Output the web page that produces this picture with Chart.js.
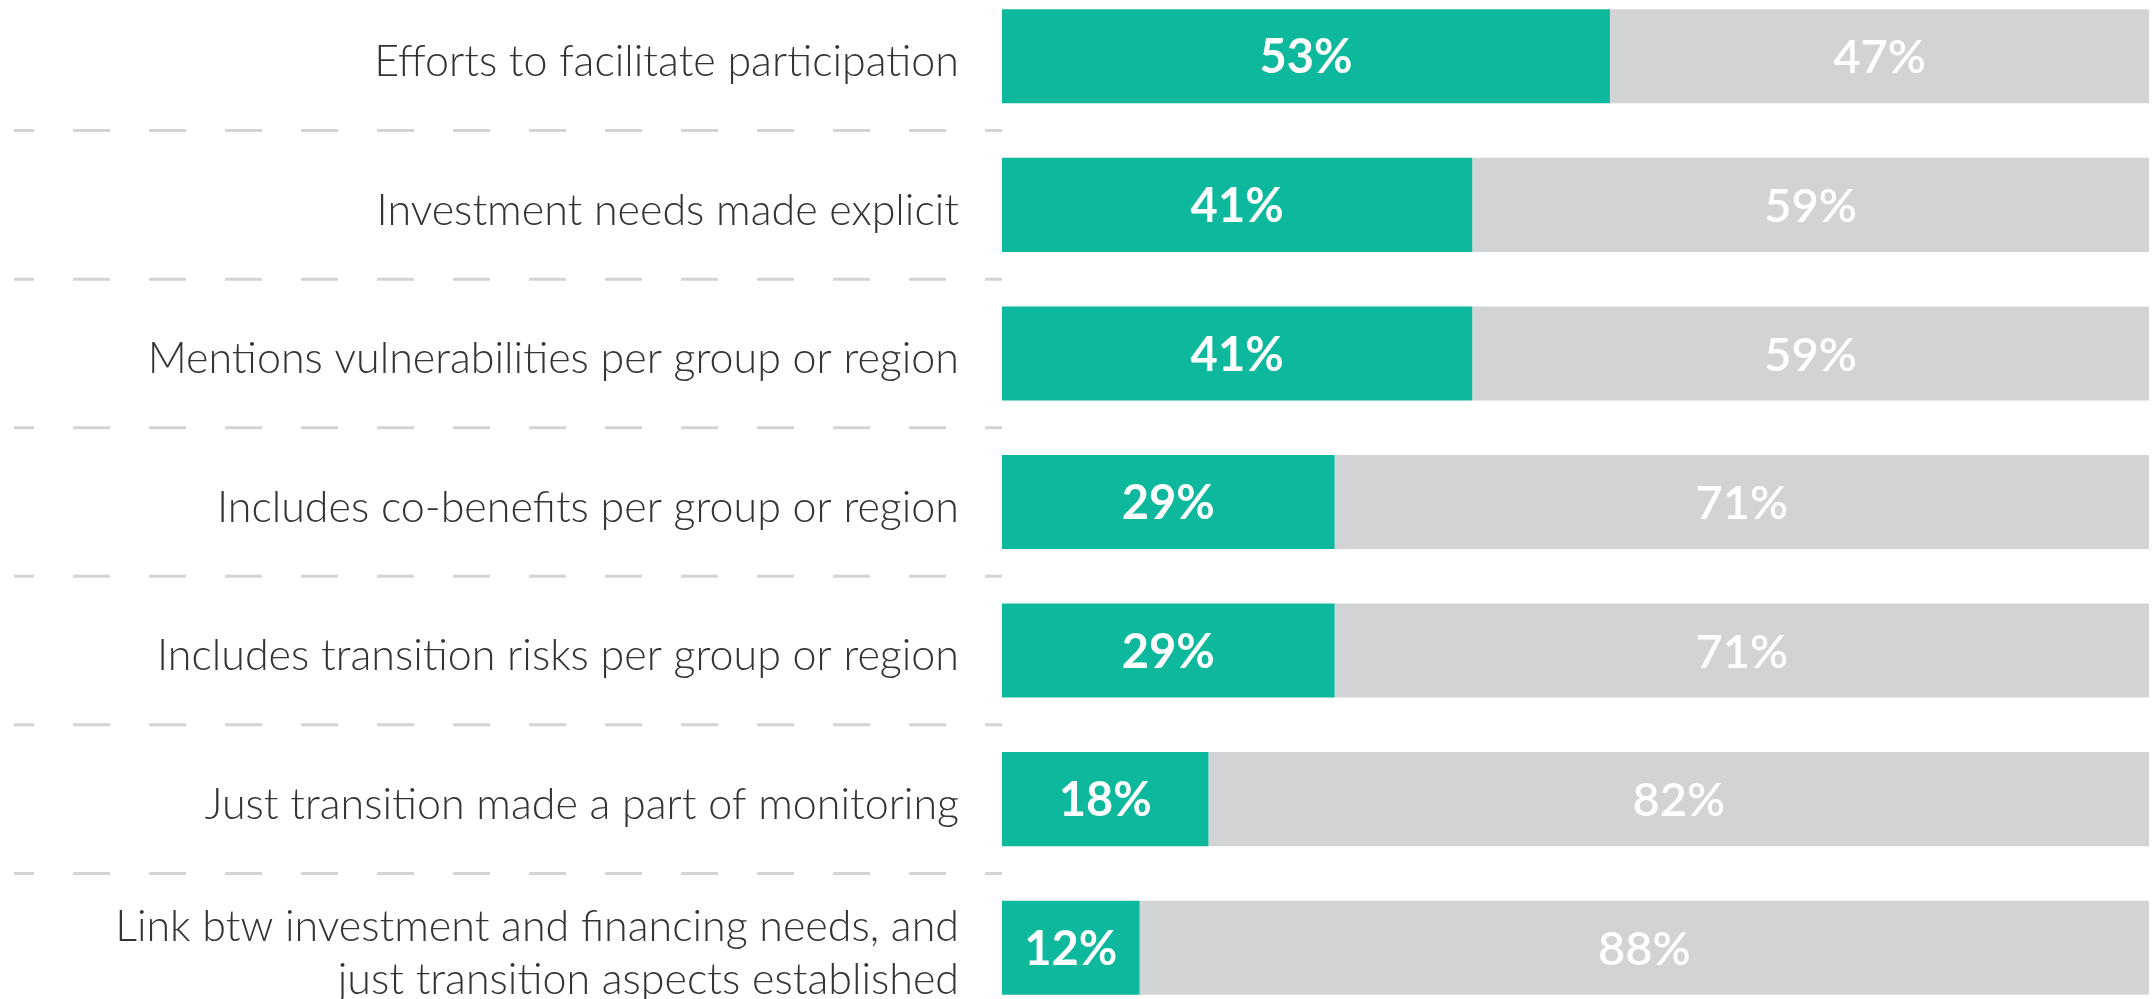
<!doctype html>
<html>
<head>
    <meta charset="UTF-8"/>
    <title>Just transition aspects</title>
    <style type="text/css">
        html, body {
            margin: 0;
            padding: 0;
            background-color: #fff;
            overflow: hidden;
        }
        .chartBox {
            position: absolute;
            left: 0;
            top: -18px;
            width: 2155px;
            height: 1040px;
        }
    </style>
</head>
<body>
    <div class="chartBox">
        <canvas id="myChart"></canvas>
    </div>

    <script src="https://cdn.jsdelivr.net/npm/chart.js"></script>

    <script>
        // Data
        const categories = [
            'Efforts to facilitate participation',
            'Investment needs made explicit',
            'Mentions vulnerabilities per group or region',
            'Includes co-benefits per group or region',
            'Includes transition risks per group or region',
            'Just transition made a part of monitoring',
            ['Link btw investment and financing needs, and', 'just transition aspects established']
        ];
        const yesValues = [53, 41, 41, 29, 29, 18, 12];
        const noValues = [47, 59, 59, 71, 71, 82, 88];

        // Dashed separators between rows, across the label area
        const separators = {
            id: 'separators',
            afterDraw(chart) {
                const ctx = chart.ctx;
                const y = chart.scales.y;
                ctx.save();
                ctx.strokeStyle = '#d3d3d3';
                ctx.lineWidth = 3;
                ctx.setLineDash([37, 39]);
                ctx.lineDashOffset = 17;
                for (let i = 0; i < categories.length - 1; i++) {
                    const py = (y.getPixelForTick(i) + y.getPixelForTick(i + 1)) / 2;
                    ctx.beginPath();
                    ctx.moveTo(14, py);
                    ctx.lineTo(chart.chartArea.left, py);
                    ctx.stroke();
                }
                ctx.restore();
            }
        };

        // Percent labels centred in each segment
        const valueLabels = {
            id: 'valueLabels',
            afterDatasetsDraw(chart) {
                const ctx = chart.ctx;
                ctx.save();
                ctx.fillStyle = '#ffffff';
                ctx.textAlign = 'center';
                ctx.textBaseline = 'middle';
                chart.data.datasets.forEach((ds, di) => {
                    ctx.font = (di === 0 ? '700' : '600') + ' 47px Lato';
                    chart.getDatasetMeta(di).data.forEach((bar, i) => {
                        const cx = (bar.x + bar.base) / 2;
                        ctx.fillText(ds.data[i] + '%', cx, bar.y + 2);
                    });
                });
                ctx.restore();
            }
        };

        const data = {
            labels: categories,
            datasets: [
                {
                    label: 'Yes',
                    data: yesValues,
                    backgroundColor: '#0db89c',
                    borderWidth: 0,
                    barPercentage: 0.633,
                    categoryPercentage: 1
                },
                {
                    label: 'No',
                    data: noValues,
                    backgroundColor: '#d1d3d4',
                    borderWidth: 0,
                    barPercentage: 0.633,
                    categoryPercentage: 1
                }
            ]
        };

        const config = {
            type: 'bar',
            data: data,
            options: {
                indexAxis: 'y',
                responsive: true,
                maintainAspectRatio: false,
                animation: false,
                layout: {
                    padding: { left: 0, right: 6, top: 0, bottom: 0 }
                },
                plugins: {
                    legend: { display: false },
                    tooltip: { enabled: false }
                },
                scales: {
                    x: {
                        stacked: true,
                        min: 0,
                        max: 100,
                        display: false
                    },
                    y: {
                        stacked: true,
                        grid: { display: false, drawTicks: false },
                        border: { display: false },
                        afterFit(scale) {
                            scale.width = 1002;
                            scale.paddingTop = 0;
                            scale.paddingBottom = 0;
                        },
                        ticks: {
                            autoSkip: false,
                            padding: 43,
                            labelOffset: 6,
                            color: '#333333',
                            font: {
                                family: 'Lato',
                                weight: '300',
                                size: 43,
                                lineHeight: 1.25
                            }
                        }
                    }
                }
            },
            plugins: [separators, valueLabels]
        };

        const myChart = new Chart(
            document.getElementById('myChart'),
            config
        );
    </script>
</body>
</html>
